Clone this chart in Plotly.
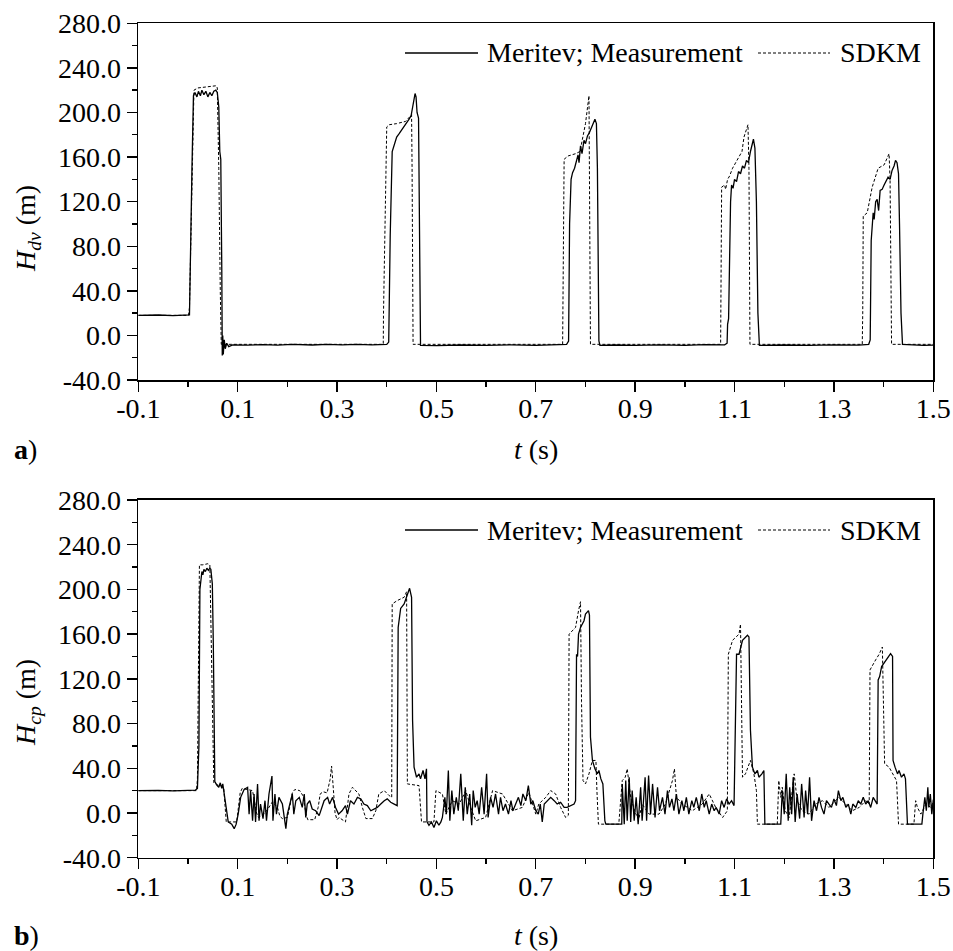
import plotly.graph_objects as go

# ---------------- data (t in s, H in m) ----------------
# Panel a) H_dv
a_meas = [(-0.100, 18.0), (-0.060, 18.3), (-0.030, 17.8), (0.000, 18.0), (0.003, 18.5),
          (0.008, 150), (0.011, 215), (0.014, 218), (0.018, 214), (0.021, 219), (0.025, 215),
          (0.028, 220), (0.032, 216), (0.036, 219), (0.040, 214), (0.044, 218), (0.048, 215),
          (0.052, 219), (0.056, 220), (0.059, 218), (0.062, 205), (0.064, 165), (0.066, 158),
          (0.068, 60), (0.069, -18), (0.070, 0), (0.071, -17), (0.073, -4), (0.075, -12),
          (0.078, -7), (0.082, -10), (0.090, -8.5), (0.12, -8.8), (0.15, -8.2), (0.18, -8.7),
          (0.21, -8.0), (0.25, -8.6), (0.28, -8.1), (0.31, -8.5), (0.34, -8.0), (0.37, -8.4),
          (0.400, -8.0), (0.404, -6), (0.407, 90), (0.411, 165), (0.415, 172), (0.420, 178),
          (0.425, 181), (0.430, 184), (0.435, 187), (0.440, 190), (0.445, 194), (0.449, 197),
          (0.452, 205), (0.455, 214), (0.457, 217), (0.459, 214), (0.461, 200), (0.464, 195),
          (0.466, 100), (0.468, -9), (0.50, -9.2), (0.55, -8.6), (0.60, -9.0), (0.65, -8.5),
          (0.70, -8.9), (0.74, -8.4), (0.762, -8), (0.766, -5), (0.768, 100), (0.771, 140),
          (0.774, 146), (0.778, 150), (0.782, 158), (0.785, 162), (0.787, 155), (0.790, 170),
          (0.793, 163), (0.797, 175), (0.800, 172), (0.804, 179), (0.808, 182), (0.812, 186),
          (0.816, 190), (0.819, 194), (0.822, 190), (0.824, 150), (0.827, -5), (0.829, -9),
          (0.86, -8.6), (0.90, -9.0), (0.95, -8.5), (1.00, -8.9), (1.04, -8.3), (1.08, -8.5),
          (1.085, -7), (1.086, 10), (1.088, 15), (1.089, 50), (1.090, 45), (1.092, 120),
          (1.094, 135), (1.097, 132), (1.100, 140), (1.104, 138), (1.108, 147), (1.112, 145),
          (1.116, 152), (1.120, 150), (1.124, 157), (1.128, 155), (1.132, 165), (1.135, 172),
          (1.138, 176), (1.141, 168), (1.144, 120), (1.147, 20), (1.150, -9), (1.20, -8.6),
          (1.25, -9.0), (1.30, -8.5), (1.35, -8.8), (1.370, -8.0), (1.373, -4), (1.375, 85),
          (1.377, 95), (1.379, 110), (1.381, 104), (1.384, 120), (1.387, 122), (1.390, 112),
          (1.393, 130), (1.397, 131), (1.401, 135), (1.405, 138), (1.409, 142), (1.413, 140),
          (1.417, 148), (1.421, 152), (1.424, 157), (1.427, 155), (1.430, 145), (1.432, 100),
          (1.435, 20), (1.438, -8), (1.46, -8.6), (1.48, -8.9), (1.50, -8.7)]

a_sdkm = [(-0.100, 18), (0.001, 18), (0.003, 25), (0.012, 220), (0.020, 222), (0.030, 222.5),
          (0.045, 223), (0.057, 224), (0.059, 222), (0.062, 150), (0.065, 40), (0.067, -8),
          (0.393, -8), (0.3935, 20), (0.400, 187), (0.405, 189), (0.420, 190), (0.438, 192),
          (0.444, 195), (0.450, 198), (0.451, 150), (0.453, -8), (0.754, -8), (0.755, 30),
          (0.757, 158), (0.765, 161), (0.780, 163), (0.789, 165), (0.800, 190), (0.807, 215),
          (0.808, 150), (0.810, -8), (1.072, -8), (1.0725, 20), (1.074, 133), (1.080, 135),
          (1.082, 131), (1.086, 140), (1.090, 143), (1.096, 150), (1.109, 160), (1.115, 165),
          (1.119, 178), (1.127, 189), (1.129, 150), (1.131, -8), (1.357, -8), (1.358, 20),
          (1.359, 107), (1.367, 110), (1.377, 133), (1.389, 150), (1.401, 153), (1.411, 163),
          (1.413, 140), (1.416, -8), (1.500, -8)]

# Panel b) H_cp
b_meas = [(-0.100, 20), (-0.060, 20.3), (-0.030, 19.8), (0.000, 20), (0.015, 20.5), (0.019, 22),
          (0.022, 60), (0.024, 200), (0.026, 212), (0.028, 216), (0.030, 213), (0.032, 218),
          (0.035, 216), (0.038, 219), (0.041, 217), (0.044, 219), (0.046, 218), (0.048, 205),
          (0.049, 205), (0.051, 150), (0.053, 40), (0.054, 28), (0.058, 25), (0.062, 23),
          (0.065, 27), (0.068, 22), (0.070, 26), (0.072, 20), (0.077, 2), (0.081, -8),
          (0.088, -10), (0.093, -14), (0.097, -10), (0.101, -1), (0.106, 14), (0.113, 21),
          (0.120, 23), (0.123, -1), (0.126, 20), (0.130, -7), (0.133, 17), (0.136, -8),
          (0.140, 26), (0.143, -7), (0.146, 8), (0.151, -5), (0.155, 11), (0.158, -7),
          (0.163, 17), (0.169, 33), (0.171, -7), (0.175, 17), (0.178, -1), (0.183, 14),
          (0.190, 8), (0.197, -14), (0.200, -1), (0.205, 8), (0.210, 17), (0.213, -1),
          (0.217, 11), (0.224, 14), (0.230, 5), (0.234, 17), (0.237, -4), (0.240, 8),
          (0.245, 11), (0.250, 3.6), (0.257, 2), (0.264, -2.4), (0.269, 5), (0.274, 11),
          (0.281, 14), (0.285, 8), (0.291, 14), (0.297, 5), (0.303, -1), (0.310, 2),
          (0.317, 6.6), (0.321, -1), (0.327, 11), (0.334, 8), (0.341, 14), (0.348, 12.6),
          (0.354, 8), (0.361, 6.6), (0.368, 2), (0.374, 3.6), (0.381, 5), (0.388, 8),
          (0.395, 11), (0.401, 12.6), (0.408, 9.6), (0.415, 8), (0.421, 6.6), (0.423, 166),
          (0.428, 183), (0.435, 187), (0.442, 196), (0.446, 201), (0.450, 193), (0.452, 83),
          (0.455, 41), (0.460, 32), (0.465, 35), (0.468, 30.5), (0.473, 38), (0.477, 30.5),
          (0.480, 39.5), (0.481, -8), (0.485, -11), (0.490, -8), (0.495, -13), (0.500, -7),
          (0.505, -11), (0.509, -8), (0.512, -4), (0.517, 14), (0.520, -1), (0.524, 38),
          (0.527, -7), (0.531, 20), (0.535, -1), (0.540, 14), (0.544, 2), (0.549, 35),
          (0.554, -7), (0.558, 23), (0.562, -1), (0.567, 17), (0.571, -11), (0.574, 20),
          (0.578, 5), (0.582, 11), (0.586, -1), (0.591, 23), (0.596, -1), (0.601, 35),
          (0.604, -4), (0.609, 14), (0.614, 5), (0.619, 17), (0.625, -1), (0.629, 14),
          (0.634, 2), (0.639, 8), (0.645, -1), (0.650, 11), (0.654, 2), (0.660, 9.6),
          (0.665, 14), (0.670, 6.6), (0.674, 17), (0.680, 11), (0.685, 24.5), (0.690, 8),
          (0.694, 11), (0.700, 2), (0.705, -1), (0.709, 8), (0.713, -8), (0.717, 8),
          (0.723, 11), (0.730, 14), (0.737, 11), (0.743, 8), (0.750, 9.6), (0.757, 5),
          (0.763, 5), (0.770, 6.6), (0.777, 8), (0.780, 11), (0.782, 142), (0.784, 140),
          (0.786, 160), (0.790, 166), (0.797, 172), (0.800, 178), (0.806, 181), (0.808, 177),
          (0.810, 68), (0.814, 47), (0.819, 39.5), (0.824, 35), (0.827, 38), (0.831, 30.5),
          (0.835, 26), (0.839, -7), (0.841, -10), (0.857, -10), (0.873, -10), (0.874, 26),
          (0.878, -10), (0.881, 29), (0.884, -7), (0.888, 32), (0.891, -8), (0.894, 20),
          (0.898, -7), (0.902, 14), (0.906, -10), (0.911, 23), (0.914, -7), (0.920, 32),
          (0.923, -7), (0.927, 33.5), (0.931, -1), (0.935, 26), (0.940, -4), (0.945, 23),
          (0.949, 2), (0.955, 14), (0.960, -1), (0.965, 20), (0.969, 5), (0.974, 12.6),
          (0.978, 2), (0.983, 17), (0.988, -1), (0.994, 11), (0.998, 2), (1.003, 14),
          (1.008, -1), (1.014, 11), (1.018, 5), (1.023, 14), (1.029, 2), (1.034, 17),
          (1.039, 5), (1.043, 11), (1.049, -1), (1.054, 8), (1.059, 2), (1.063, 5),
          (1.069, -1), (1.074, 11), (1.079, 5), (1.084, 12.6), (1.089, 8), (1.094, 11),
          (1.099, 6.6), (1.104, 142), (1.109, 142), (1.116, 154.5), (1.122, 157.5),
          (1.126, 159), (1.129, 157.5), (1.132, 74), (1.136, 41), (1.141, 35), (1.146, 38),
          (1.149, 32), (1.155, 35), (1.159, 38), (1.161, -10), (1.193, -10), (1.196, 20),
          (1.200, -1), (1.204, 35), (1.208, -7), (1.211, 23), (1.215, -1), (1.218, 32),
          (1.222, -8), (1.226, 17), (1.231, -5), (1.235, 26), (1.240, -4), (1.243, 20),
          (1.247, -1), (1.251, 32), (1.255, -7), (1.260, 11), (1.265, 2), (1.270, 14),
          (1.275, 5), (1.280, -1), (1.285, 11), (1.290, 8), (1.295, 5), (1.300, 12.6),
          (1.305, 6.6), (1.309, 20), (1.314, 11), (1.318, 14), (1.324, 5), (1.329, 8),
          (1.334, -1), (1.338, 8), (1.344, 5), (1.349, 11), (1.354, 8), (1.359, 14),
          (1.364, 8), (1.369, 11), (1.374, 5), (1.379, 14), (1.384, 9.6), (1.387, 8),
          (1.389, 119), (1.392, 122), (1.396, 131), (1.401, 134), (1.406, 137), (1.411, 141),
          (1.414, 142.5), (1.418, 140), (1.419, 47), (1.423, 41), (1.428, 35), (1.431, 38),
          (1.436, 32), (1.441, 35), (1.444, 30.5), (1.448, -10), (1.477, -10), (1.479, -1),
          (1.483, 14), (1.486, 2), (1.489, 23), (1.491, 5), (1.494, 17), (1.497, -1),
          (1.500, 12)]

b_sdkm = [(-0.100, 20), (0.017, 20), (0.019, 30), (0.023, 222), (0.030, 222), (0.040, 223),
          (0.044, 222), (0.047, 150), (0.050, 60), (0.052, 27), (0.060, 25), (0.068, 24),
          (0.072, 22), (0.075, 5), (0.077, -8), (0.098, -8), (0.101, 5), (0.105, 18),
          (0.109, 22), (0.120, 21), (0.130, 20), (0.134, 10), (0.138, 0), (0.142, -4),
          (0.150, -2), (0.160, 3), (0.170, 10), (0.180, 5), (0.185, -3), (0.190, -5),
          (0.200, -4), (0.206, 8), (0.210, 18), (0.215, 21), (0.225, 20), (0.232, 15),
          (0.237, 0), (0.241, -6), (0.255, -6), (0.262, 5), (0.266, 17), (0.272, 19),
          (0.280, 18), (0.286, 30), (0.289, 42), (0.292, 25), (0.296, 0), (0.300, -6),
          (0.304, -4), (0.317, -8), (0.324, 17), (0.331, 23), (0.344, 17), (0.351, 5),
          (0.358, -5), (0.371, -5), (0.378, 2), (0.384, 17), (0.395, 20), (0.405, 15.5),
          (0.410, 14), (0.411, 187), (0.421, 190), (0.435, 193), (0.440, 198), (0.4415, 26),
          (0.465, 24.5), (0.470, -8), (0.495, -8), (0.499, 20), (0.512, 17), (0.519, -1),
          (0.532, 11), (0.546, 8), (0.559, 20), (0.569, 5), (0.579, -7), (0.599, -4),
          (0.613, 20), (0.633, 17), (0.653, 2), (0.673, 5), (0.686, 18.5), (0.700, -1),
          (0.706, 8), (0.720, 14), (0.730, 20), (0.740, 17), (0.750, 5), (0.760, -4),
          (0.7655, -2), (0.767, 160), (0.780, 166), (0.786, 181), (0.790, 189), (0.792, 100),
          (0.795, 29), (0.800, 26), (0.807, 35), (0.814, 47), (0.821, 47), (0.823, 20),
          (0.826, -10), (0.867, -10), (0.874, 29), (0.880, 32), (0.884, 39.5), (0.891, 14),
          (0.901, -1), (0.908, -4), (0.914, 8), (0.928, -1), (0.948, -1), (0.961, 8),
          (0.975, 29), (0.979, 39.5), (0.983, 14), (0.995, 8), (1.015, 2), (1.035, 8),
          (1.049, 17), (1.062, 5), (1.076, -4), (1.0855, 2), (1.0875, 142), (1.096, 154.5),
          (1.109, 160), (1.112, 169), (1.114, 100), (1.116, 32), (1.122, 35), (1.132, 47),
          (1.139, 35), (1.144, 20), (1.146, -10), (1.186, -10), (1.189, 29), (1.193, 14),
          (1.196, 23), (1.202, 2), (1.210, -4), (1.216, 20), (1.220, 35), (1.226, 11),
          (1.236, 2), (1.250, -1), (1.263, 8), (1.277, 11), (1.290, 5), (1.310, 14),
          (1.324, 8), (1.337, 2), (1.351, 5), (1.364, 11), (1.371, 8), (1.3726, 128),
          (1.384, 137), (1.391, 142), (1.3975, 148.5), (1.400, 100), (1.402, 44), (1.411, 41),
          (1.419, 35), (1.426, 29), (1.428, 10), (1.430, -10), (1.461, -10), (1.4645, 11),
          (1.468, 5), (1.475, -1), (1.485, 8), (1.495, 5), (1.500, 10)]

x_ticks = [-0.1, 0.1, 0.3, 0.5, 0.7, 0.9, 1.1, 1.3, 1.5]
x_labels = ["-0.1", "0.1", "0.3", "0.5", "0.7", "0.9", "1.1", "1.3", "1.5"]
x_minor = [0.0, 0.2, 0.4, 0.6, 0.8, 1.0, 1.2, 1.4]
y_ticks = [-40, 0, 40, 80, 120, 160, 200, 240, 280]
y_labels = ["-40.0", "0.0", "40.0", "80.0", "120.0", "160.0", "200.0", "240.0", "280.0"]
y_minor = [-20, 20, 60, 100, 140, 180, 220, 260]
legend_names = ["Meritev; Measurement", "SDKM"]
y_titles = ["<i>H</i><sub><i>dv</i></sub> (m)", "<i>H</i><sub><i>cp</i></sub> (m)"]
x_title = "<i>t</i> (s)"
panel_tags = ["<b>a</b>)", "<b>b</b>)"]

# ---------------- figure ----------------
W, H = 953, 951
FONT = "Liberation Serif"
FS = 28

def px(x):
    return x / W

def py(y):
    return 1 - y / H

fig = go.Figure()

panels = [
    dict(meas=a_meas, sdkm=a_sdkm, xa="x", ya="y", top=23.3, bot=380.0,
         ytitle=y_titles[0], ytitle_y=229, xtitle_y=450, tag=panel_tags[0], leg_y=53),
    dict(meas=b_meas, sdkm=b_sdkm, xa="x2", ya="y2", top=500.0, bot=857.7,
         ytitle=y_titles[1], ytitle_y=703, xtitle_y=935, tag=panel_tags[1], leg_y=530),
]

L, R = 138.3, 933.3
annotations = []
shapes = []
for i, p in enumerate(panels):
    fig.add_trace(go.Scatter(x=[q[0] for q in p["meas"]], y=[q[1] for q in p["meas"]],
                             mode="lines", line=dict(color="black", width=1.3),
                             name=legend_names[0], showlegend=False,
                             xaxis=p["xa"], yaxis=p["ya"]))
    fig.add_trace(go.Scatter(x=[q[0] for q in p["sdkm"]], y=[q[1] for q in p["sdkm"]],
                             mode="lines", line=dict(color="black", width=1.0, dash="3px,2px"),
                             name=legend_names[1], showlegend=False,
                             xaxis=p["xa"], yaxis=p["ya"]))
    axcommon = dict(showline=True, linecolor="black", linewidth=1.6, mirror=True,
                    showgrid=False, zeroline=False, ticks="outside", ticklen=10,
                    tickwidth=1.4, tickcolor="black", automargin=False,
                    tickfont=dict(family=FONT, size=FS, color="black"))
    xkey = "xaxis" if i == 0 else "xaxis2"
    ykey = "yaxis" if i == 0 else "yaxis2"
    fig.update_layout(**{
        xkey: dict(axcommon, range=[-0.1, 1.5], tickvals=x_ticks, ticktext=x_labels,
                   domain=[px(L), px(R)], anchor=p["ya"], ticklabelstandoff=-7,
                   minor=dict(tickvals=x_minor, ticklen=5, tickwidth=1.4,
                              tickcolor="black", ticks="outside")),
        ykey: dict(axcommon, range=[-40, 280], tickvals=y_ticks, ticktext=y_labels,
                   domain=[py(p["bot"]), py(p["top"])], anchor=p["xa"],
                   minor=dict(tickvals=y_minor, ticklen=5, tickwidth=1.4,
                              tickcolor="black", ticks="outside")),
    })
    annotations.append(dict(text=p["ytitle"], x=px(27), y=py(p["ytitle_y"]), xref="paper",
                            yref="paper", showarrow=False, textangle=-90,
                            xanchor="center", yanchor="middle",
                            font=dict(family=FONT, size=FS, color="black")))
    annotations.append(dict(text=x_title, x=px(536), y=py(p["xtitle_y"]), xref="paper",
                            yref="paper", showarrow=False, xanchor="center", yanchor="middle",
                            font=dict(family=FONT, size=FS, color="black")))
    annotations.append(dict(text=p["tag"], x=px(12), y=py(p["xtitle_y"]), xref="paper",
                            yref="paper", showarrow=False, xanchor="left", yanchor="middle",
                            font=dict(family=FONT, size=FS, color="black")))
    ly = py(p["leg_y"])
    shapes.append(dict(type="line", xref="paper", yref="paper", x0=px(405), x1=px(478),
                       y0=ly, y1=ly, line=dict(color="black", width=1.3)))
    shapes.append(dict(type="line", xref="paper", yref="paper", x0=px(758), x1=px(830),
                       y0=ly, y1=ly, line=dict(color="black", width=1.0, dash="3px,2px")))
    annotations.append(dict(text=legend_names[0], x=px(485), y=ly, xref="paper", yref="paper",
                            showarrow=False, xanchor="left", yanchor="middle",
                            font=dict(family=FONT, size=FS, color="black")))
    annotations.append(dict(text=legend_names[1], x=px(838), y=ly, xref="paper", yref="paper",
                            showarrow=False, xanchor="left", yanchor="middle",
                            font=dict(family=FONT, size=FS, color="black")))

fig.update_layout(width=W, height=H, autosize=False, margin=dict(l=0, r=0, t=0, b=0, pad=0),
                  paper_bgcolor="white", plot_bgcolor="white", showlegend=False,
                  annotations=annotations, shapes=shapes,
                  font=dict(family=FONT, size=FS, color="black"))

fig.write_html("out.html", config={"displayModeBar": False, "staticPlot": True},
               post_script="document.body.style.margin='0';document.body.style.overflow='hidden';")
